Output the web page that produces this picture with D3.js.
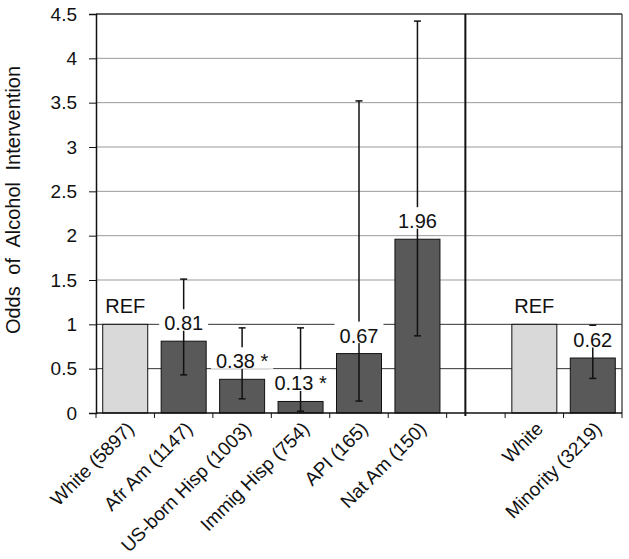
<!DOCTYPE html>
<html>
<head>
<meta charset="utf-8">
<script src="https://cdn.jsdelivr.net/npm/d3@7"></script>
<style>
  body { margin: 0; background: #fff; }
  text { font-family: "Liberation Sans", Arial, sans-serif; fill: #111; }
</style>
</head>
<body>
<svg id="chart" width="629" height="559"></svg>
<script>
// slots along the x axis ("gap" is the empty slot between the two panels)
var slots = ["White (5897)", "Afr Am (1147)", "US-born Hisp (1003)", "Immig Hisp (754)",
             "API (165)", "Nat Am (150)", "gap", "White", "Minority (3219)"];
var tickLabels = ["White (5897)", "Afr Am (1147)", "US-born Hisp (1003)", "Immig Hisp (754)",
                  "API (165)", "Nat Am (150)", "", "White", "Minority (3219)"];

// odds ratios and 95% CI
var groups  = ["White (5897)", "Afr Am (1147)", "US-born Hisp (1003)", "Immig Hisp (754)",
               "API (165)", "Nat Am (150)", "White", "Minority (3219)"];
var odds    = [1, 0.81, 0.38, 0.13, 0.67, 1.96, 1, 0.62];
var ciLow   = [null, 0.43, 0.16, 0.02, 0.135, 0.87, null, 0.39];
var ciHigh  = [null, 1.51, 0.96, 0.96, 3.52, 4.42, null, 0.99];
var isRef   = [true, false, false, false, false, false, true, false];
var labels  = ["REF", "0.81", "0.38 *", "0.13 *", "0.67", "1.96", "REF", "0.62"];

var yTicks = [0, 0.5, 1, 1.5, 2, 2.5, 3, 3.5, 4, 4.5];
var dividerSlot = 6.32;   // panel divider, in slot units

var svg = d3.select("#chart");
var margin = {left: 96, right: 7, top: 14, bottom: 146};
var width = 629 - margin.left - margin.right,
    height = 559 - margin.top - margin.bottom;

var g = svg.append("g").attr("transform", "translate(" + margin.left + "," + margin.top + ")");

var x = d3.scaleBand().domain(slots).range([0, width]).paddingInner(0.23).paddingOuter(0.115);
var y = d3.scaleLinear().domain([0, 4.5]).range([height, 0]);
var step = x.step();

// gridlines
g.append("g").selectAll("line")
    .data(yTicks.filter(function(d) { return d > 0 && d < 4.5; }))
  .enter().append("line")
    .attr("x1", 0).attr("x2", width)
    .attr("y1", function(d) { return y(d); })
    .attr("y2", function(d) { return y(d); })
    .attr("stroke", function(d) { return d <= 1 ? "#333" : "#999"; })
    .attr("stroke-width", 1);

// frame top / right
g.append("line").attr("x1", 0).attr("x2", width).attr("y1", 0).attr("y2", 0)
    .attr("stroke", "#333").attr("stroke-width", 1.5);
g.append("line").attr("x1", width).attr("x2", width).attr("y1", 0).attr("y2", height)
    .attr("stroke", "#555").attr("stroke-width", 1.5);

var data = groups.map(function(name, i) {
  return {name: name, v: odds[i], lo: ciLow[i], hi: ciHigh[i], ref: isRef[i], label: labels[i]};
});

// bars
g.append("g").selectAll("rect")
    .data(data)
  .enter().append("rect")
    .attr("x", function(d) { return x(d.name); })
    .attr("width", x.bandwidth())
    .attr("y", function(d) { return y(d.v); })
    .attr("height", function(d) { return height - y(d.v); })
    .attr("fill", function(d) { return d.ref ? "#d9d9d9" : "#595959"; })
    .attr("stroke", "#111")
    .attr("stroke-width", 1);

// error bars
var err = g.append("g").selectAll("g")
    .data(data.filter(function(d) { return d.lo != null; }))
  .enter().append("g")
    .attr("stroke", "#111").attr("stroke-width", 1.5);
err.append("line")
    .attr("x1", function(d) { return x(d.name) + x.bandwidth() / 2; })
    .attr("x2", function(d) { return x(d.name) + x.bandwidth() / 2; })
    .attr("y1", function(d) { return y(d.lo); })
    .attr("y2", function(d) { return y(d.hi); });
err.selectAll("line.cap")
    .data(function(d) { return [d.lo, d.hi].map(function(v) { return {name: d.name, v: v}; }); })
  .enter().append("line")
    .attr("class", "cap")
    .attr("x1", function(d) { return x(d.name) + x.bandwidth() / 2 - 3.5; })
    .attr("x2", function(d) { return x(d.name) + x.bandwidth() / 2 + 3.5; })
    .attr("y1", function(d) { return y(d.v); })
    .attr("y2", function(d) { return y(d.v); });

// data labels with white boxes
var lab = g.append("g").selectAll("g")
    .data(data)
  .enter().append("g")
    .attr("transform", function(d) {
      return "translate(" + (x(d.name) + x.bandwidth() / 2) + "," + (y(d.v) - 11) + ")";
    });
lab.append("text")
    .attr("text-anchor", "middle")
    .style("font-size", "20px")
    .text(function(d) { return d.label; })
    .each(function(d) { d.tw = this.getComputedTextLength(); });
lab.insert("rect", "text")
    .attr("x", function(d) { return -d.tw / 2 - 5; })
    .attr("width", function(d) { return d.tw + 10; })
    .attr("y", -21)
    .attr("height", 21.5)
    .attr("fill", function(d) { return d.ref ? "none" : "#fff"; });

// divider between panels
g.append("line")
    .attr("x1", dividerSlot * step).attr("x2", dividerSlot * step)
    .attr("y1", 0).attr("y2", height + 3)
    .attr("stroke", "#111").attr("stroke-width", 2);

// y axis
var yAxis = g.append("g")
    .call(d3.axisLeft(y).tickValues(yTicks).tickSize(7).tickPadding(12).tickFormat(d3.format("")));
yAxis.select(".domain").attr("stroke", "#111").attr("stroke-width", 1.5);
yAxis.selectAll(".tick line").attr("stroke", "#111");
yAxis.selectAll(".tick text").style("font-size", "19px").attr("fill", "#111");

// x axis: ticks at slot boundaries
var xg = g.append("g").attr("transform", "translate(0," + height + ")");
xg.append("line").attr("x1", 0).attr("x2", width).attr("stroke", "#111").attr("stroke-width", 1.5);
xg.selectAll("line.tk")
    .data(d3.range(slots.length + 1))
  .enter().append("line")
    .attr("class", "tk")
    .attr("x1", function(d) { return d * step; })
    .attr("x2", function(d) { return d * step; })
    .attr("y1", 0).attr("y2", 5)
    .attr("stroke", "#111");
xg.selectAll("text")
    .data(slots.map(function(s, i) { return {slot: s, label: tickLabels[i]}; }))
  .enter().append("text")
    .attr("text-anchor", "end")
    .style("font-size", "19px")
    .attr("transform", function(d) {
      return "translate(" + (x(d.slot) + x.bandwidth() / 2 + 10) + ",17) rotate(-45)";
    })
    .text(function(d) { return d.label; });

// y axis title
svg.append("text")
    .attr("transform", "translate(20," + 200 + ") rotate(-90)")
    .attr("text-anchor", "middle")
    .style("font-size", "20px")
    .style("word-spacing", "6px")
    .text("Odds of Alcohol Intervention");
</script>
</body>
</html>
